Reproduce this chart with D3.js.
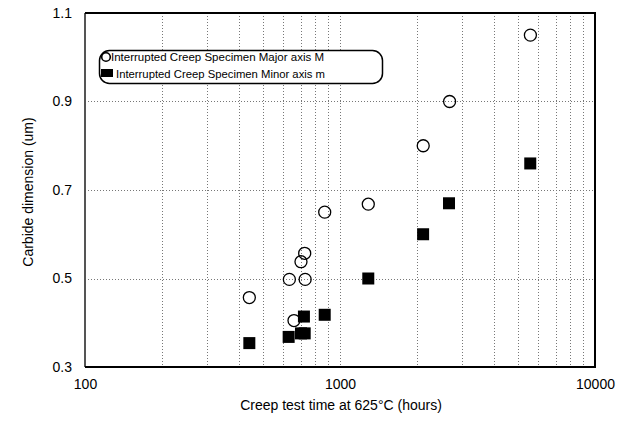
<!DOCTYPE html>
<html>
<head>
<meta charset="utf-8">
<script src="https://cdn.jsdelivr.net/npm/d3@7"></script>
<style>
  html, body { margin: 0; padding: 0; background: #fff; }
  svg { display: block; font-family: "Liberation Sans", Arial, sans-serif; }
</style>
</head>
<body>
<svg id="chart" width="628" height="425"></svg>
<script>
// Creep test time (hours) and carbide size (um) for each measurement
const majorTime  = [441, 633, 660, 703, 727, 730, 871, 1291, 2120, 2690, 5580];
const majorValue = [0.457, 0.498, 0.405, 0.538, 0.557, 0.498, 0.650, 0.668, 0.800, 0.900, 1.050];
const minorTime  = [441, 629, 703, 727, 722, 871, 1291, 2118, 2676, 5573];
const minorValue = [0.354, 0.368, 0.376, 0.376, 0.414, 0.418, 0.500, 0.600, 0.670, 0.760];

const xTicks = [100, 1000, 10000];
const yTicks = [0.3, 0.5, 0.7, 0.9, 1.1];
const yGrid  = [0.5, 0.7, 0.9];
const xGrid  = [200, 300, 400, 500, 600, 700, 800, 900, 1000,
                2000, 3000, 4000, 5000, 6000, 7000, 8000, 9000];

const legendLabels = [
  "Interrupted Creep Specimen Major axis M",
  "Interrupted Creep Specimen Minor axis m"
];

const svg = d3.select("#chart");
const L = 85, R = 595, T = 13, B = 367;

const x = d3.scaleLog().domain([100, 10000]).range([L, R]);
const y = d3.scaleLinear().domain([0.3, 1.1]).range([B, T]);

// dotted grid
const grid = svg.append("g").attr("stroke", "#777").attr("stroke-width", 1)
  .attr("stroke-dasharray", "1,2").attr("fill", "none");
grid.selectAll("line.v").data(xGrid).join("line")
  .attr("x1", d => Math.round(x(d)) + 0.5).attr("x2", d => Math.round(x(d)) + 0.5)
  .attr("y1", T).attr("y2", B);
grid.selectAll("line.h").data(yGrid).join("line")
  .attr("x1", L).attr("x2", R)
  .attr("y1", d => Math.round(y(d)) + 0.5).attr("y2", d => Math.round(y(d)) + 0.5);

// axes (labels only)
const xAxis = svg.append("g").attr("transform", `translate(0,${B})`)
  .call(d3.axisBottom(x).tickValues(xTicks).tickSize(0).tickPadding(12).tickFormat(d3.format("d")));
const yAxis = svg.append("g").attr("transform", `translate(${L},0)`)
  .call(d3.axisLeft(y).tickValues(yTicks).tickSize(0).tickPadding(13).tickFormat(d3.format(".1f")));
[xAxis, yAxis].forEach(a => {
  a.select(".domain").remove();
  a.selectAll("text").attr("font-size", 14).attr("fill", "#000")
    .attr("font-family", "'Liberation Sans', Arial, sans-serif");
});

// frame
svg.append("line").attr("x1", L).attr("x2", L).attr("y1", T).attr("y2", B)
  .attr("stroke", "#555").attr("stroke-width", 2);
svg.append("path")
  .attr("d", `M${L},${T}H${R}V${B}H${L}`)
  .attr("fill", "none").attr("stroke", "#000").attr("stroke-width", 2);

// markers
svg.append("g").selectAll("circle").data(majorTime).join("circle")
  .attr("cx", (d) => x(d)).attr("cy", (d, i) => y(majorValue[i]))
  .attr("r", 6).attr("fill", "none").attr("stroke", "#000").attr("stroke-width", 1.3);

const s = 12;
svg.append("g").selectAll("rect").data(minorTime).join("rect")
  .attr("x", d => x(d) - s / 2).attr("y", (d, i) => y(minorValue[i]) - s / 2)
  .attr("width", s).attr("height", s).attr("fill", "#000");

// legend
const lg = svg.append("g");
lg.append("rect").attr("x", 99.5).attr("y", 50.5).attr("width", 283).attr("height", 33)
  .attr("rx", 10).attr("ry", 10).attr("fill", "#fff").attr("stroke", "#000").attr("stroke-width", 1.5);
lg.append("circle").attr("cx", 106).attr("cy", 57).attr("r", 4.3)
  .attr("fill", "none").attr("stroke", "#000").attr("stroke-width", 1.6);
lg.append("rect").attr("x", 101).attr("y", 69).attr("width", 12).attr("height", 8).attr("fill", "#000");
lg.append("text").attr("x", 111).attr("y", 61).attr("font-size", 11.5)
  .attr("textLength", 213).attr("lengthAdjust", "spacingAndGlyphs").text(legendLabels[0]);
lg.append("text").attr("x", 116).attr("y", 78).attr("font-size", 11.5)
  .attr("textLength", 209).attr("lengthAdjust", "spacingAndGlyphs").text(legendLabels[1]);

// axis titles
svg.append("text").attr("x", 341).attr("y", 410).attr("text-anchor", "middle")
  .attr("font-size", 14).attr("fill", "#000")
  .text("Creep test time at 625\u00B0C (hours)");

svg.append("text").attr("transform", "translate(33,192) rotate(-90)")
  .attr("text-anchor", "middle").attr("font-size", 14).attr("fill", "#000")
  .text("Carbide dimension (um)");
</script>
</body>
</html>
